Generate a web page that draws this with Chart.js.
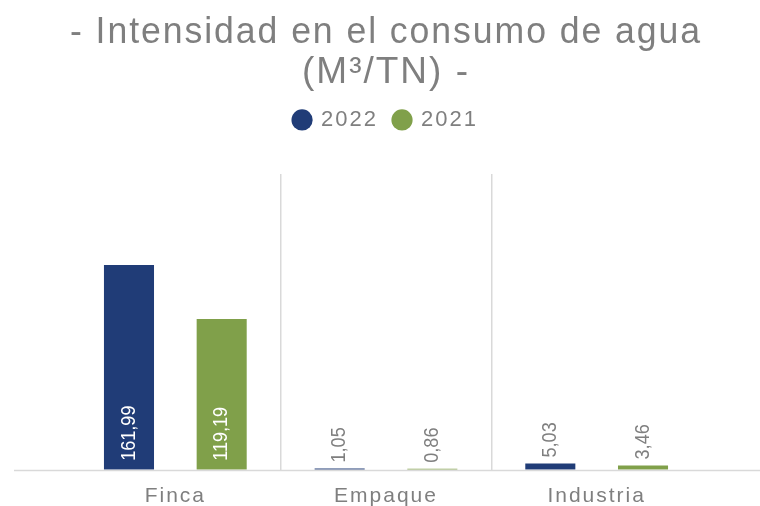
<!DOCTYPE html>
<html lang="es">
<head>
<meta charset="utf-8">
<title>Intensidad en el consumo de agua</title>
<script src="https://cdn.jsdelivr.net/npm/chart.js@4.4.1/dist/chart.umd.min.js"></script>
<style>
    html, body { margin: 0; padding: 0; background: #ffffff; }
    #contenedor { position: relative; width: 760px; height: 506px; }
</style>
</head>
<body>
<div id="contenedor">
    <canvas id="grafico-agua"></canvas>
</div>
<script>
// Datos del gráfico
const categorias = ["Finca", "Empaque", "Industria"];
const anios = ["2022", "2021"];
const valores2022 = [161.99, 1.05, 5.03];
const valores2021 = [119.19, 0.86, 3.46];

const colorTexto = "#7f7f7f";
const colorLinea = "#d9d9d9";

// Espaciado de letras como en el original (se pierde al redimensionar el canvas)
const espaciado = {
    id: "espaciado",
    beforeUpdate(chart) { chart.ctx.letterSpacing = "2px" },
    beforeDraw(chart) { chart.ctx.letterSpacing = "2px" }
};

// Más espacio entre la leyenda y las barras
const espacioLeyenda = {
    id: "espacioLeyenda",
    beforeLayout(chart) {
        const leyenda = chart.legend;
        if (leyenda && !leyenda._fitOriginal) {
            leyenda._fitOriginal = leyenda.fit;
            leyenda.fit = function () {
                this._fitOriginal();
                this.height += 33;
            };
        }
    }
};

// Línea base a lo ancho de todo el gráfico
const lineaBase = {
    id: "lineaBase",
    afterDatasetsDraw(chart) {
        const ctx = chart.ctx;
        const y = Math.round(chart.scales.y.getPixelForValue(0)) + 0.5;
        ctx.save();
        ctx.strokeStyle = colorLinea;
        ctx.lineWidth = 1.5;
        ctx.beginPath();
        ctx.moveTo(14, y);
        ctx.lineTo(chart.width, y);
        ctx.stroke();
        ctx.restore();
    }
};

// Etiquetas de valor, verticales
const etiquetas = {
    id: "etiquetas",
    afterDatasetsDraw(chart) {
        const ctx = chart.ctx;
        const estrecho = 0.86;
        ctx.save();
        ctx.letterSpacing = "0px";
        ctx.font = "21px 'Liberation Sans', Arial, sans-serif";
        chart.data.datasets.forEach((ds, i) => {
            chart.getDatasetMeta(i).data.forEach((barra, j) => {
                const texto = ds.data[j].toFixed(2).replace(".", ",");
                const ancho = ctx.measureText(texto).width * estrecho;
                const alto = barra.base - barra.y;
                let inicio;
                if (alto > ancho + 20) {
                    inicio = barra.base - 9;
                    ctx.fillStyle = "#ffffff";
                } else {
                    inicio = barra.y - 6;
                    ctx.fillStyle = colorTexto;
                }
                ctx.save();
                ctx.translate(barra.x, inicio);
                ctx.rotate(-Math.PI / 2);
                ctx.scale(estrecho, 1);
                ctx.textAlign = "left";
                ctx.textBaseline = "middle";
                ctx.fillText(texto, 0, 0);
                ctx.restore();
            });
        });
        ctx.restore();
    }
};

let graficoAgua = new Chart(
    document.getElementById("grafico-agua"),
    {
        type: "bar",
        data: {
            labels: categorias,
            datasets: [
                {
                    label: anios[0],
                    data: valores2022,
                    backgroundColor: "#203c77"
                },
                {
                    label: anios[1],
                    data: valores2021,
                    backgroundColor: "#80a04a"
                }
            ]
        },
        options: {
            responsive: true,
            maintainAspectRatio: false,
            animation: false,
            categoryPercentage: 0.88,
            barPercentage: 0.54,
            layout: {
                padding: { left: 70, right: 58, top: 0, bottom: -17 }
            },
            scales: {
                x: {
                    offset: true,
                    border: { display: false },
                    grid: {
                        offset: true,
                        drawTicks: false,
                        lineWidth: 1.5,
                        color: ctx => (ctx.type === "tick" && ctx.index > 0) ? colorLinea : "transparent"
                    },
                    ticks: {
                        padding: 14,
                        color: colorTexto,
                        font: { family: "'Liberation Sans', Arial, sans-serif", size: 21 }
                    }
                },
                y: {
                    display: false,
                    min: 0,
                    max: 234
                }
            },
            plugins: {
                title: {
                    display: true,
                    text: ["- Intensidad en el consumo de agua", "(M³/TN) -"],
                    color: colorTexto,
                    font: { family: "'Liberation Sans', Arial, sans-serif", size: 37, weight: "normal", lineHeight: 1.08 },
                    padding: { top: 13, bottom: 0 }
                },
                legend: {
                    position: "top",
                    labels: {
                        usePointStyle: true,
                        pointStyle: "circle",
                        boxWidth: 16,
                        boxHeight: 15,
                        padding: 16,
                        color: colorTexto,
                        font: { family: "'Liberation Sans', Arial, sans-serif", size: 22 }
                    }
                },
                tooltip: { enabled: false }
            }
        },
        plugins: [espaciado, espacioLeyenda, lineaBase, etiquetas]
    }
);
</script>
</body>
</html>
